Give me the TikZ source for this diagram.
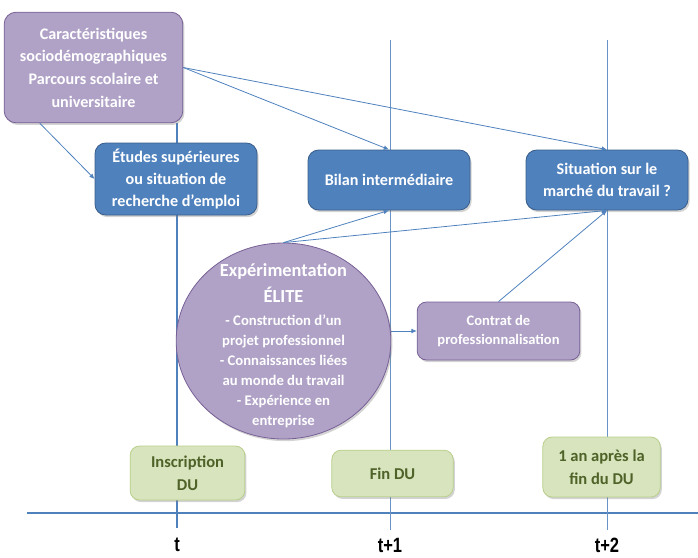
\documentclass[tikz,border=0pt]{standalone}
\usepackage{fontspec}
\setmainfont{Carlito}
\newfontfamily\axisfont[FakeStretch=0.8]{Liberation Sans}
\usetikzlibrary{arrows.meta,shadows,shapes.geometric}

\definecolor{boxblue}{RGB}{79,129,189}
\definecolor{blueedge}{RGB}{56,93,138}
\definecolor{boxlilac}{RGB}{176,162,199}
\definecolor{lilacedge}{RGB}{120,96,150}
\definecolor{boxgreen}{RGB}{215,228,189}
\definecolor{greenedge}{RGB}{155,187,89}
\definecolor{greentext}{RGB}{79,98,40}
\definecolor{axisblue}{RGB}{79,129,189}

\tikzset{
  shade box/.style={drop shadow={opacity=0.35,shadow xshift=1.2pt,shadow yshift=-1.6pt}},
  lilacbox/.style={rounded corners=9pt,fill=boxlilac,draw=lilacedge,line width=0.6pt,
    text=white,align=center,font=\bfseries\fontsize{12.1}{17}\selectfont,shade box},
  bluebox/.style={rounded corners=8pt,fill=boxblue,draw=blueedge,line width=0.6pt,
    text=white,align=center,font=\bfseries\fontsize{12.1}{16.5}\selectfont,shade box},
  greenbox/.style={rounded corners=7pt,fill=boxgreen,draw=greenedge!70,line width=0.6pt,
    text=greentext,align=center,font=\bfseries\fontsize{12.4}{17}\selectfont,shade box},
  conn/.style={axisblue,line width=0.6pt,-{Latex[length=4pt,width=3.5pt]}},
  ticklabel/.style={inner sep=0pt,font=\axisfont\bfseries\fontsize{15.5}{17}\selectfont}
}

\newcommand{\eliteTitle}{\fontsize{13.8}{15}\selectfont}

\begin{document}
\begin{tikzpicture}[x=0.75pt,y=-0.75pt,>=Latex]
\useasboundingbox (0,0) rectangle (698,557);
\draw[axisblue,line width=1.5pt] (27,513) -- (698,513);
\draw[axisblue,line width=1.5pt] (177,123) -- (177,528);
\draw[axisblue!85,line width=0.5pt] (390,40) -- (390,530);
\draw[axisblue!85,line width=0.5pt] (607,40) -- (607,530);

\node[lilacbox,minimum width=134pt,minimum height=83pt] (caract) at (93.5,67.5)
  {Caractéristiques\\sociodémographiques\\Parcours scolaire et\\universitaire};
\node[bluebox,minimum width=121.5pt,minimum height=54pt] (etudes) at (176,179)
  {Études supérieures\\ou situation de\\recherche d’emploi};
\node[bluebox,minimum width=121.5pt,minimum height=45pt] (bilan) at (389,180)
  {Bilan intermédiaire};
\node[bluebox,minimum width=121.5pt,minimum height=45pt] (situation) at (607,180)
  {Situation sur le\\marché du travail ?};
\node[ellipse,fill=boxlilac,draw=lilacedge,line width=0.6pt,
  minimum width=161pt,minimum height=147pt,inner sep=0pt,shade box] (elite) at (283.5,341) {};
\node[text=white,align=center,font=\bfseries\fontsize{11}{15}\selectfont] (elitetext) at (283.5,345.5)
  {\eliteTitle Expérimentation\\[4.5pt]\eliteTitle ÉLITE\\[2pt]
   - Construction d’un\\projet professionnel\\
   - Connaissances liées\\au monde du travail\\
   - Expérience en\\entreprise};
\node[lilacbox,rounded corners=7pt,minimum width=122pt,minimum height=43.5pt,
  font=\bfseries\fontsize{10.9}{14.5}\selectfont] (contrat) at (498.5,331)
  {Contrat de\\professionnalisation};

\node[greenbox,minimum width=86pt,minimum height=40.5pt] (inscription) at (187.5,473)
  {Inscription\\DU};
\node[greenbox,minimum width=91pt,minimum height=35pt] (findu) at (392.5,473.5)
  {Fin DU};
\node[greenbox,minimum width=88pt,minimum height=45pt] (unan) at (601.5,467)
  {1 an après la\\fin du DU};

\node[ticklabel] (t0) at (177,545) {t};
\node[ticklabel] (t1) at (390,545) {t+1};
\node[ticklabel] (t2) at (607,545) {t+2};

\draw[conn] ([xshift=27pt]caract.south west) -- (etudes.west);
\draw[conn] (caract.east) -- (bilan.north);
\draw[conn] (caract.east) -- (situation.north);
\draw[conn] (elite.north) -- (bilan.south);
\draw[conn] (elite.north) -- (situation.south);
\draw[conn] (elite.east |- contrat.west) -- (contrat.west);
\draw[conn] (contrat.north) -- (situation.south);
\end{tikzpicture}
\end{document}
